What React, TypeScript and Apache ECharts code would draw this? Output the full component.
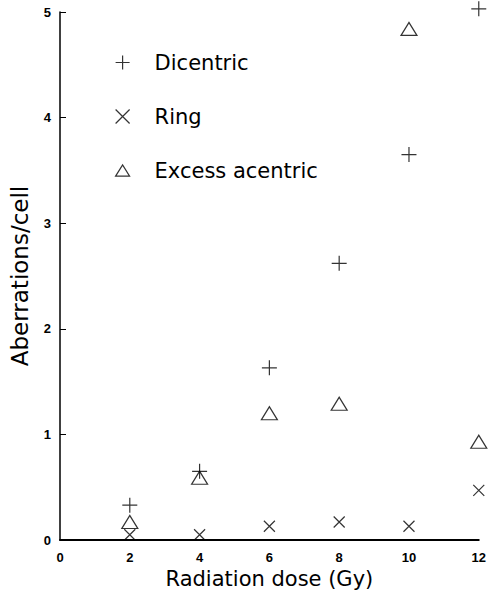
import React, { useEffect, useRef } from "react";
import * as echarts from "echarts";

const doses = [2, 4, 6, 8, 10, 12];
const dicentric = [0.33, 0.65, 1.63, 2.62, 3.65, 5.03];
const ring = [0.05, 0.05, 0.13, 0.17, 0.13, 0.47];
const excessAcentric = [0.17, 0.59, 1.2, 1.29, 4.84, 0.93];
const xTicks = [0, 2, 4, 6, 8, 10, 12];
const yTicks = [0, 1, 2, 3, 4, 5];

const PLUS = "path://M0,8 L16,8 M8,0 L8,16";
const CROSS = "path://M0,0 L12,12 M0,12 L12,0";
const TRI = "path://M0,13 L8,0 L16,13 Z";

const FONT = "'Liberation Sans', Arial, Helvetica, sans-serif";
const WIDE = "'DejaVu Sans', 'Liberation Sans', Arial, sans-serif";

export default function App() {
  const ref = useRef<HTMLDivElement>(null);
  useEffect(() => {
    if (!ref.current) return;
    const chart = echarts.init(ref.current, undefined, { renderer: "svg" });
    const pairs = (ys: number[]) => doses.map((d, i) => [d, ys[i]]);
    const base = {
      type: "scatter" as const,
      clip: false,
      itemStyle: { color: "transparent", borderColor: "#000", borderWidth: 1.2 },
    };
    chart.setOption({
      animation: false,
      backgroundColor: "#fff",
      textStyle: { fontFamily: FONT },
      grid: { left: 58, right: 9, top: 12, bottom: 62, containLabel: false },
      legend: {
        orient: "vertical",
        left: 110,
        top: 47,
        itemGap: 33,
        itemWidth: 14,
        itemHeight: 14,
        textStyle: { fontSize: 21, color: "#000", fontFamily: WIDE, padding: [0, 0, 0, 20] },
        data: [
          { name: "Dicentric", icon: PLUS },
          { name: "Ring", icon: CROSS },
          { name: "Excess acentric", icon: TRI },
        ],
        itemStyle: { color: "transparent", borderColor: "#000", borderWidth: 1.2 },
      },
      xAxis: {
        type: "value",
        min: 0,
        max: 12,
        interval: 2,
        name: "Radiation dose (Gy)",
        nameLocation: "middle",
        nameGap: 28,
        nameTextStyle: { fontSize: 21, color: "#000", fontFamily: WIDE },
        axisLine: { lineStyle: { color: "#000", width: 2 } },
        axisTick: { show: false },
        splitLine: { show: false },
        axisLabel: {
          color: "#000",
          fontWeight: "bold",
          fontSize: 13,
          margin: 11,
          fontFamily: FONT,
          formatter: (v: number) => (xTicks.includes(v) ? String(v) : ""),
        },
      },
      yAxis: {
        type: "value",
        min: 0,
        max: 5,
        interval: 1,
        name: "Aberrations/cell",
        nameLocation: "middle",
        nameGap: 29,
        nameTextStyle: { fontSize: 23, color: "#000", fontFamily: WIDE },
        axisLine: { show: true, lineStyle: { color: "#000", width: 1.5 } },
        axisTick: { show: true, inside: true, length: 6, lineStyle: { color: "#000", width: 1 } },
        splitLine: { show: false },
        axisLabel: {
          color: "#000",
          fontWeight: "bold",
          fontSize: 13,
          margin: 9,
          fontFamily: FONT,
          formatter: (v: number) => (yTicks.includes(v) ? String(v) : ""),
        },
      },
      series: [
        { ...base, name: "Dicentric", symbol: PLUS, symbolSize: 15, data: pairs(dicentric) },
        { ...base, name: "Ring", symbol: CROSS, symbolSize: 11, data: pairs(ring) },
        { ...base, name: "Excess acentric", symbol: TRI, symbolSize: [16, 13], data: pairs(excessAcentric) },
      ],
    });
    return () => chart.dispose();
  }, []);
  return <div ref={ref} style={{ width: 489, height: 602, position: "absolute", left: 0, top: 0 }} />;
}
